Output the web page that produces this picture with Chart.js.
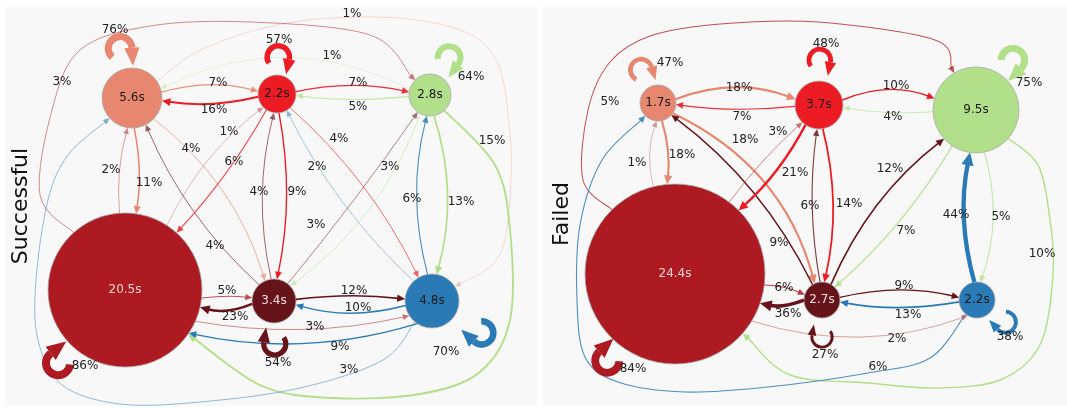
<!DOCTYPE html>
<html>
<head>
<meta charset="utf-8">
<script src="https://cdn.jsdelivr.net/npm/chart.js@4.4.1/dist/chart.umd.min.js"></script>
<style>
  html, body { margin: 0; padding: 0; background: #fff; }
  body { width: 1067px; height: 408px; position: relative; overflow: hidden; }
  .panel { position: absolute; top: 7px; height: 399px; background: #f8f8f8; }
  #left { left: 5px; width: 532px; }
  #right { left: 543px; width: 524px; }
</style>
</head>
<body>
<div class="panel" id="left"><canvas id="chart-success"></canvas></div>
<div class="panel" id="right"><canvas id="chart-failed"></canvas></div>
<script>
// ---- data ----
const panelTitles = ['Successful', 'Failed'];

// mean dwell time per state (s)
const successTimes = [5.6, 2.2, 2.8, 20.5, 3.4, 4.8];
const failedTimes = [1.7, 3.7, 9.5, 24.4, 2.7, 2.2];

// self-transition probability (%)
const successLoops = [76, 57, 64, 86, 54, 70];
const failedLoops = [47, 48, 75, 84, 27, 38];

// transitions [from, to, %]
const successEdges = [
  [0, 1, 7], [1, 0, 16], [1, 2, 7], [2, 1, 5], [2, 0, 1], [0, 5, 1], [3, 2, 3],
  [0, 3, 11], [3, 0, 2], [0, 4, 4], [4, 0, 4], [1, 3, 6], [3, 1, 1], [4, 1, 4],
  [1, 4, 9], [5, 1, 2], [1, 5, 4], [4, 2, 3], [2, 4, 3], [5, 2, 6], [2, 5, 13],
  [2, 3, 15], [5, 0, 3], [3, 4, 5], [4, 3, 23], [4, 5, 12], [5, 4, 10], [3, 5, 3], [5, 3, 9],
];
const failedEdges = [
  [0, 1, 18], [1, 0, 7], [1, 2, 10], [2, 1, 4], [3, 2, 5], [2, 3, 10], [0, 3, 18],
  [3, 0, 1], [0, 4, 18], [4, 0, 9], [1, 3, 21], [3, 1, 3], [4, 1, 6], [1, 4, 14],
  [4, 2, 12], [2, 4, 7], [5, 2, 44], [2, 5, 5], [5, 0, 6], [3, 4, 6], [4, 3, 36],
  [4, 5, 9], [5, 4, 13], [3, 5, 2],
];

// ---- layout (page pixel coordinates) ----
const successNodeLayout = [
  { x: 132, y: 98, r: 30, loop: -103.5, loopDist: 51, loopLab: [115, 30] },
  { x: 277, y: 94, r: 19, loop: -88, loopDist: 37, loopLab: [279, 40] },
  { x: 430, y: 95, r: 21, loop: -63, loopDist: 42, loopLab: [471, 77] },
  { x: 125, y: 290, r: 77, loop: 132.5, loopDist: 99, loopLab: [85, 366] },
  { x: 274, y: 301, r: 22, loop: 89, loopDist: 43, loopLab: [278, 363] },
  { x: 432, y: 301, r: 27, loop: 32.6, loopDist: 59, loopLab: [446, 352] },
];
const failedNodeLayout = [
  { x: 658, y: 103, r: 18, loop: -117, loopDist: 37, loopLab: [670, 63] },
  { x: 819, y: 105, r: 24, loop: -89, loopDist: 45, loopLab: [826, 44] },
  { x: 976, y: 110, r: 43, loop: -53.5, loopDist: 62, loopLab: [1029, 83] },
  { x: 675, y: 274, r: 90, loop: 128, loopDist: 110, loopLab: [633, 369] },
  { x: 822, y: 300, r: 18, loop: 90, loopDist: 37, loopLab: [825, 355] },
  { x: 977, y: 300, r: 18, loop: 38, loopDist: 36, loopLab: [1010, 337] },
];

const successEdgeLayout = [
  { bend: 0.14, lab: [218, 83] },
  { bend: 0.10, lab: [214, 110] },
  { bend: 0.11, lab: [358, 83] },
  { bend: 0.06, lab: [358, 107] },
  { bend: -0.25, lab: [332, 56] },
  { via: [[207, 47], [300, 21], [417, 20], [490, 50], [510, 133], [508, 220], [495, 262]], lab: [352, 14] },
  { via: [[40, 195], [52, 110], [80, 50], [150, 26], [250, 22], [370, 35]], lab: [62, 82] },
  { bend: 0.09, lab: [149, 183] },
  { bend: 0.09, lab: [111, 170] },
  { bend: 0.16, lab: [191, 149] },
  { bend: 0.11, lab: [215, 246] },
  { bend: 0.06, ea: -48, lab: [234, 162] },
  { bend: 0.12, sa: -57, lab: [229, 132] },
  { bend: 0.12, lab: [259, 192] },
  { bend: 0.10, lab: [297, 192] },
  { bend: 0.09, lab: [317, 167] },
  { bend: 0.10, lab: [339, 139] },
  { bend: -0.02, lab: [316, 225] },
  { bend: 0.15, lab: [390, 167] },
  { bend: 0.13, lab: [412, 199] },
  { bend: 0.15, lab: [461, 202] },
  { via: [[495, 165], [510, 230], [510, 320], [480, 372], [420, 394], [333, 398], [262, 386]], lab: [492, 141] },
  { via: [[383, 360], [300, 388], [200, 402], [120, 404], [62, 385], [38, 340], [36, 280], [48, 200], [68, 155]], lab: [349, 370] },
  { bend: 0.06, sa: 6, lab: [227, 291] },
  { bend: 0.17, ea: 13, lab: [235, 317] },
  { bend: 0.06, lab: [354, 291] },
  { bend: 0.14, lab: [358, 308] },
  { bend: -0.10, sa: 24, ea: 147, lab: [315, 327] },
  { bend: 0.13, sa: 123, ea: 34, lab: [340, 347] },
];
const failedEdgeLayout = [
  { bend: 0.19, lab: [739, 88] },
  { bend: 0.06, lab: [742, 117] },
  { bend: 0.20, lab: [896, 86] },
  { bend: 0.06, lab: [893, 117] },
  { via: [[583, 180], [588, 110], [610, 62], [650, 36], [720, 24], [818, 22], [935, 40]], lab: [610, 102] },
  { via: [[1038, 165], [1050, 220], [1053, 275], [1040, 345], [1000, 380], [935, 388], [868, 383], [790, 375]], lab: [1042, 254] },
  { bend: 0.10, ea: -95, lab: [682, 155] },
  { bend: 0.15, sa: -104, lab: [637, 163] },
  { bend: 0.23, lab: [745, 140] },
  { bend: -0.12, lab: [779, 243] },
  { bend: 0.09, ea: -45, lab: [795, 173] },
  { bend: 0.05, sa: -53, lab: [778, 132] },
  { bend: 0.08, lab: [810, 206] },
  { bend: 0.12, lab: [849, 204] },
  { bend: 0.13, lab: [890, 169] },
  { bend: 0.08, lab: [906, 231] },
  { bend: 0.12, lab: [956, 215] },
  { bend: 0.16, lab: [1001, 217] },
  { via: [[930, 358], [868, 373], [768, 387], [685, 392], [618, 382], [585, 357], [577, 300], [580, 225], [602, 160]], lab: [878, 367] },
  { bend: 0.10, sa: 7, lab: [784, 288] },
  { bend: 0.15, ea: 19, lab: [788, 314] },
  { bend: 0.12, lab: [904, 286] },
  { bend: 0.09, lab: [908, 315] },
  { bend: -0.17, sa: 31.5, ea: 120, lab: [897, 339] },
];

// ---- style ----
const FONT = '"DejaVu Sans", Verdana, sans-serif';
const nodeColors = ['#e8876f', '#ed1c24', '#b2df8a', '#ae1a21', '#67131a', '#2a7ab6'];
const nodeTextColors = ['#1a1a1a', '#1a1a1a', '#1a1a1a', '#f4d4d4', '#f2dede', '#1a1a1a'];
const deg = Math.PI / 180;

function edgeWidth(p) { return 0.6 + p * 0.085; }
function edgeAlpha(p) { return Math.min(1, 0.35 + p * 0.08); }

function rgba(hex, a) {
  const n = parseInt(hex.slice(1), 16);
  return `rgba(${n >> 16},${(n >> 8) & 255},${n & 255},${a})`;
}

function unit(x, y) { const l = Math.hypot(x, y) || 1; return [x / l, y / l]; }

function arrowHead(ctx, tip, u, len, half) {
  const bx = tip[0] - u[0] * len, by = tip[1] - u[1] * len;
  ctx.beginPath();
  ctx.moveTo(tip[0], tip[1]);
  ctx.lineTo(bx - u[1] * half, by + u[0] * half);
  ctx.lineTo(bx + u[1] * half, by - u[0] * half);
  ctx.closePath();
  ctx.fill();
}

// smooth curve through points (Catmull-Rom as bezier pieces)
function splinePath(ctx, pts) {
  ctx.moveTo(pts[0][0], pts[0][1]);
  for (let i = 0; i < pts.length - 1; i++) {
    const p0 = pts[i - 1] || pts[i], p1 = pts[i], p2 = pts[i + 1], p3 = pts[i + 2] || p2;
    ctx.bezierCurveTo(
      p1[0] + (p2[0] - p0[0]) / 6, p1[1] + (p2[1] - p0[1]) / 6,
      p2[0] - (p3[0] - p1[0]) / 6, p2[1] - (p3[1] - p1[1]) / 6,
      p2[0], p2[1]);
  }
}

function drawEdge(ctx, toPx, nodes, e, lay) {
  const [s, t, p] = e;
  const S = nodes[s], T = nodes[t];
  const w = edgeWidth(p), len = 5 + w * 1.8, half = 2.2 + w * 0.9;
  const col = rgba(nodeColors[s], edgeAlpha(p));
  ctx.strokeStyle = col;
  ctx.fillStyle = col;
  ctx.lineWidth = w;
  let tip, dir;
  ctx.beginPath();
  if (lay.via) {
    const via = lay.via.map(toPx);
    const a = unit(via[0][0] - S.x, via[0][1] - S.y);
    const start = [S.x + S.r * a[0], S.y + S.r * a[1]];
    const last = via[via.length - 1];
    const b = unit(last[0] - T.x, last[1] - T.y);
    tip = [T.x + T.r * b[0], T.y + T.r * b[1]];
    dir = [-b[0], -b[1]];
    const end = [tip[0] - dir[0] * len * 0.8, tip[1] - dir[1] * len * 0.8];
    splinePath(ctx, [start, ...via, end]);
  } else {
    const bend = lay.bend || 0;
    const th = Math.atan2(T.y - S.y, T.x - S.x);
    const beta = bend * 1.2;
    const a0 = lay.sa != null ? lay.sa * deg : th - beta;
    const a1 = lay.ea != null ? lay.ea * deg : th + Math.PI + beta;
    const P0 = [S.x + S.r * Math.cos(a0), S.y + S.r * Math.sin(a0)];
    tip = [T.x + T.r * Math.cos(a1), T.y + T.r * Math.sin(a1)];
    const dx = tip[0] - P0[0], dy = tip[1] - P0[1];
    const C = [(P0[0] + tip[0]) / 2 + bend * dy, (P0[1] + tip[1]) / 2 - bend * dx];
    dir = unit(tip[0] - C[0], tip[1] - C[1]);
    const end = [tip[0] - dir[0] * len * 0.8, tip[1] - dir[1] * len * 0.8];
    ctx.moveTo(P0[0], P0[1]);
    ctx.quadraticCurveTo(C[0], C[1], end[0], end[1]);
  }
  ctx.stroke();
  arrowHead(ctx, tip, dir, len, half);
}

// self transition: ring beside the node, arrow re-entering it
function drawLoop(ctx, N, lay, p, color) {
  const w = edgeWidth(p), rho = 9 + w * 0.4;
  const th = lay.loop * deg, d = lay.loopDist;
  const cx = N.x + d * Math.cos(th), cy = N.y + d * Math.sin(th);
  const phi = th + Math.PI;
  const a0 = phi + 55 * deg, a1 = phi - 80 * deg + 2 * Math.PI;
  const len = 6 + w * 1.7, half = 2 + w * 0.8;
  ctx.strokeStyle = color;
  ctx.fillStyle = color;
  ctx.lineWidth = w;
  ctx.beginPath();
  ctx.arc(cx, cy, rho, a0, a1, false);
  ctx.stroke();
  const ex = cx + rho * Math.cos(a1), ey = cy + rho * Math.sin(a1);
  const u = [-Math.sin(a1), Math.cos(a1)];
  arrowHead(ctx, [ex + u[0] * len, ey + u[1] * len], u, len, half);
}

const graphPlugin = {
  id: 'graph',
  afterDatasetsDraw(chart) {
    const g = chart.options.plugins.graph;
    const ctx = chart.ctx;
    const xs = chart.scales.x, ys = chart.scales.y;
    const toPx = p => [xs.getPixelForValue(p[0]), ys.getPixelForValue(p[1])];
    const nodes = g.nodeLayout.map(n => {
      const [x, y] = toPx([n.x, n.y]);
      return { x, y, r: n.r };
    });
    ctx.save();
    ctx.lineCap = 'butt';
    g.edges.forEach((e, i) => drawEdge(ctx, toPx, nodes, e, g.edgeLayout[i]));
    g.loops.forEach((p, i) => drawLoop(ctx, nodes[i], g.nodeLayout[i], p, nodeColors[i]));

    ctx.textAlign = 'center';
    ctx.textBaseline = 'middle';
    ctx.font = `12px ${FONT}`;
    g.times.forEach((t, i) => {
      ctx.fillStyle = nodeTextColors[i];
      ctx.fillText(t.toFixed(1) + 's', nodes[i].x, nodes[i].y);
    });
    ctx.fillStyle = '#222';
    g.edges.forEach((e, i) => {
      const [x, y] = toPx(g.edgeLayout[i].lab);
      ctx.fillText(e[2] + '%', x, y);
    });
    g.loops.forEach((p, i) => {
      const [x, y] = toPx(g.nodeLayout[i].loopLab);
      ctx.fillText(p + '%', x, y);
    });

    const [tx, ty] = toPx(g.titlePos);
    ctx.translate(tx, ty);
    ctx.rotate(-Math.PI / 2);
    ctx.font = `22px ${FONT}`;
    ctx.fillStyle = '#111';
    ctx.fillText(g.title, 0, 0);
    ctx.restore();
  }
};

function makeGraph(canvasId, cfg) {
  const ctx = document.getElementById(canvasId).getContext('2d');
  return new Chart(ctx, {
    type: 'bubble',
    data: {
      datasets: [{
        data: cfg.nodeLayout.map(n => ({ x: n.x, y: n.y, r: n.r })),
        backgroundColor: nodeColors,
        borderColor: '#a8a8a8',
        borderWidth: 0.8,
        clip: false,
      }]
    },
    options: {
      responsive: true,
      maintainAspectRatio: false,
      animation: false,
      events: [],
      layout: { padding: 0, autoPadding: false },
      plugins: { legend: { display: false }, tooltip: { enabled: false }, graph: cfg },
      scales: {
        x: { type: 'linear', display: false, min: cfg.xRange[0], max: cfg.xRange[1] },
        y: { type: 'linear', display: false, min: cfg.yRange[0], max: cfg.yRange[1], reverse: true },
      }
    },
    plugins: [graphPlugin]
  });
}

makeGraph('chart-success', {
  title: panelTitles[0], titlePos: [21, 206],
  times: successTimes, loops: successLoops, edges: successEdges,
  nodeLayout: successNodeLayout, edgeLayout: successEdgeLayout,
  xRange: [5, 537], yRange: [7, 406],
});
makeGraph('chart-failed', {
  title: panelTitles[1], titlePos: [562, 214],
  times: failedTimes, loops: failedLoops, edges: failedEdges,
  nodeLayout: failedNodeLayout, edgeLayout: failedEdgeLayout,
  xRange: [543, 1067], yRange: [7, 406],
});
</script>
</body>
</html>
